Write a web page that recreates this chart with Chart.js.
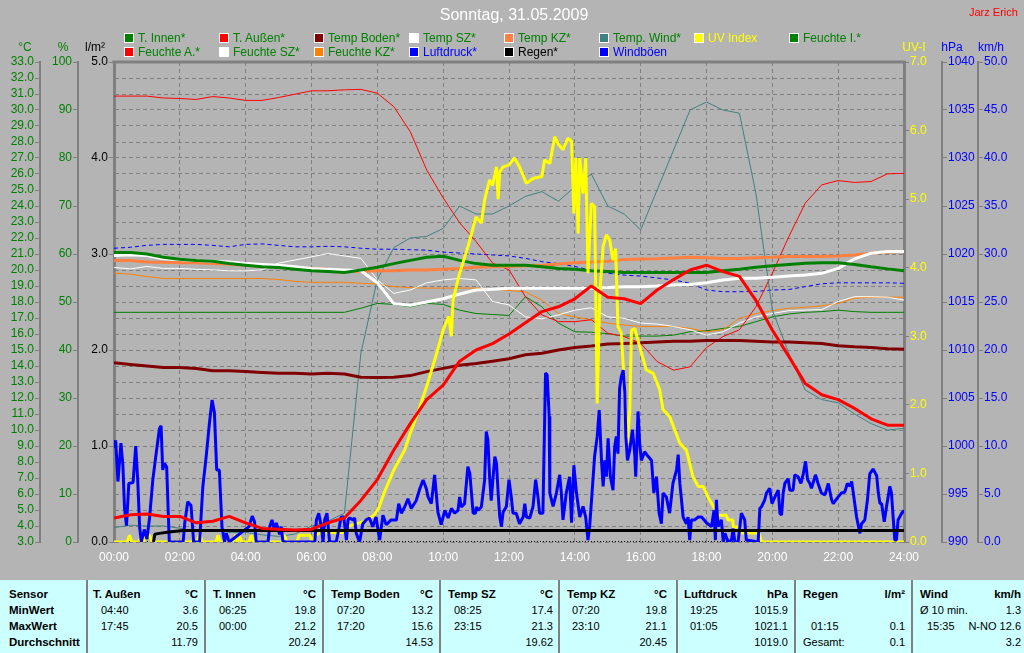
<!DOCTYPE html>
<html>
<head>
<meta charset="utf-8">
<script src="https://cdn.jsdelivr.net/npm/chart.js@4.4.0/dist/chart.umd.min.js"></script>
<style>
  html, body { margin: 0; padding: 0; background: #b4b4b4; }
  #wrap { position: relative; width: 1024px; height: 653px; overflow: hidden; background: #b4b4b4;
          font-family: "Liberation Sans", Arial, sans-serif; }
  #chart { position: absolute; left: 0; top: 0; }
  .t { position: absolute; white-space: nowrap; line-height: 14px; }
  .mid { transform: translate(-50%, -50%); }
  .sw { position: absolute; width: 10px; height: 10px; box-sizing: border-box; border: 1px solid #fff; }
  .lg { position: absolute; white-space: nowrap; font-size: 12px; line-height: 14px; }
  #tbl { position: absolute; left: 0; top: 580px; width: 1024px; height: 73px; background: #ccffff; }
  .sep { position: absolute; top: 580px; width: 2px; height: 73px; background: #808080; }
  .b { position: absolute; white-space: nowrap; font-weight: bold; font-size: 11.5px; line-height: 14px; color: #000; }
  .v { position: absolute; white-space: nowrap; font-size: 11px; line-height: 14px; color: #000; }
</style>
</head>
<body>
<div id="wrap">
  <canvas id="chart" width="1024" height="580"></canvas>

  <div class="t mid" style="left:514px;top:15px;color:#fff;font-size:16px;">Sonntag, 31.05.2009</div>
  <div class="t" style="left:969px;top:5px;color:#ff0000;font-size:11px;">Jarz Erich</div>

  <div class="t mid" style="left:25px;top:47px;color:#008000;font-size:12px;">°C</div>
  <div class="t mid" style="left:63px;top:47px;color:#008000;font-size:12px;">%</div>
  <div class="t mid" style="left:95px;top:47px;color:#000;font-size:12px;">l/m²</div>
  <div class="t mid" style="left:914px;top:47px;color:#ffff00;font-size:12px;">UV-I</div>
  <div class="t mid" style="left:952px;top:47px;color:#0000ff;font-size:12px;">hPa</div>
  <div class="t mid" style="left:991px;top:47px;color:#0000ff;font-size:12px;">km/h</div>

  <div id="legend"></div>

  <div id="tbl"></div>
  <div class="sep" style="left:86px"></div>
  <div class="sep" style="left:204px"></div>
  <div class="sep" style="left:322px"></div>
  <div class="sep" style="left:439px"></div>
  <div class="sep" style="left:558px"></div>
  <div class="sep" style="left:676px"></div>
  <div class="sep" style="left:794px"></div>
  <div class="sep" style="left:911px"></div>

  <div class="b" style="left:9px;top:587px">Sensor</div>
  <div class="b" style="left:9px;top:603px">MinWert</div>
  <div class="b" style="left:9px;top:619px">MaxWert</div>
  <div class="b" style="left:9px;top:635px">Durchschnitt</div>

  <div class="b" style="left:93px;top:587px">T. Außen</div>
  <div class="b" style="right:826px;top:587px">°C</div>
  <div class="v" style="left:101px;top:603px">04:40</div>
  <div class="v" style="right:826px;top:603px">3.6</div>
  <div class="v" style="left:101px;top:619px">17:45</div>
  <div class="v" style="right:826px;top:619px">20.5</div>
  <div class="v" style="right:826px;top:635px">11.79</div>

  <div class="b" style="left:213px;top:587px">T. Innen</div>
  <div class="b" style="right:708px;top:587px">°C</div>
  <div class="v" style="left:219px;top:603px">06:25</div>
  <div class="v" style="right:708px;top:603px">19.8</div>
  <div class="v" style="left:219px;top:619px">00:00</div>
  <div class="v" style="right:708px;top:619px">21.2</div>
  <div class="v" style="right:708px;top:635px">20.24</div>

  <div class="b" style="left:331px;top:587px">Temp Boden</div>
  <div class="b" style="right:591px;top:587px">°C</div>
  <div class="v" style="left:337px;top:603px">07:20</div>
  <div class="v" style="right:591px;top:603px">13.2</div>
  <div class="v" style="left:337px;top:619px">17:20</div>
  <div class="v" style="right:591px;top:619px">15.6</div>
  <div class="v" style="right:591px;top:635px">14.53</div>

  <div class="b" style="left:448px;top:587px">Temp SZ</div>
  <div class="b" style="right:471px;top:587px">°C</div>
  <div class="v" style="left:454px;top:603px">08:25</div>
  <div class="v" style="right:471px;top:603px">17.4</div>
  <div class="v" style="left:454px;top:619px">23:15</div>
  <div class="v" style="right:471px;top:619px">21.3</div>
  <div class="v" style="right:471px;top:635px">19.62</div>

  <div class="b" style="left:567px;top:587px">Temp KZ</div>
  <div class="b" style="right:357px;top:587px">°C</div>
  <div class="v" style="left:572px;top:603px">07:20</div>
  <div class="v" style="right:357px;top:603px">19.8</div>
  <div class="v" style="left:572px;top:619px">23:10</div>
  <div class="v" style="right:357px;top:619px">21.1</div>
  <div class="v" style="right:357px;top:635px">20.45</div>

  <div class="b" style="left:684px;top:587px">Luftdruck</div>
  <div class="b" style="right:236px;top:587px">hPa</div>
  <div class="v" style="left:690px;top:603px">19:25</div>
  <div class="v" style="right:236px;top:603px">1015.9</div>
  <div class="v" style="left:690px;top:619px">01:05</div>
  <div class="v" style="right:236px;top:619px">1021.1</div>
  <div class="v" style="right:236px;top:635px">1019.0</div>

  <div class="b" style="left:803px;top:587px">Regen</div>
  <div class="b" style="right:119px;top:587px">l/m²</div>
  <div class="v" style="left:811px;top:619px">01:15</div>
  <div class="v" style="right:119px;top:619px">0.1</div>
  <div class="v" style="left:803px;top:635px">Gesamt:</div>
  <div class="v" style="right:119px;top:635px">0.1</div>

  <div class="b" style="left:920px;top:587px">Wind</div>
  <div class="b" style="right:3px;top:587px">km/h</div>
  <div class="v" style="left:920px;top:603px">Ø 10 min.</div>
  <div class="v" style="right:3px;top:603px">1.3</div>
  <div class="v" style="left:927px;top:619px">15:35</div>
  <div class="v" style="right:3px;top:619px">N-NO 12.6</div>
  <div class="v" style="right:3px;top:635px">3.2</div>
</div>

<script>
// half-hour sampling of the day (hours)
const TIMES = [0,0.5,1,1.5,2,2.5,3,3.5,4,4.5,5,5.5,6,6.5,7,7.5,8,8.5,9,9.5,10,10.5,11,11.5,12,
               12.5,13,13.5,14,14.5,15,15.5,16,16.5,17,17.5,18,18.5,19,19.5,20,20.5,21,21.5,22,22.5,23,23.5,24];

// temperatures, °C
const tInnen  = [21.1,21.1,21.0,20.8,20.67,20.6,20.55,20.4,20.3,20.2,20.15,20.05,19.95,19.9,19.85,20.0,20.17,20.4,20.6,20.8,
                 20.86,20.6,20.4,20.3,20.3,20.3,20.2,20.1,20.05,19.95,19.9,19.85,19.85,19.85,19.85,19.85,19.84,19.95,20.05,20.17,
                 20.27,20.35,20.42,20.45,20.45,20.35,20.2,20.07,19.96];
const tAussen = [4.5,4.7,4.75,4.6,4.6,4.2,4.3,4.6,4.2,3.85,3.8,3.75,3.8,4.2,4.5,5.6,6.9,8.75,10.4,11.9,
                 12.8,14.3,15.0,15.4,16.0,16.7,17.4,17.7,18.2,19.0,18.3,18.2,17.9,18.75,19.4,20.0,20.3,19.9,19.6,18.1,
                 16.25,14.6,12.9,12.2,11.9,11.35,10.7,10.3,10.3];
const tBoden  = [14.2,14.1,14.0,13.9,13.9,13.85,13.7,13.7,13.65,13.6,13.55,13.55,13.5,13.55,13.5,13.3,13.28,13.3,13.4,13.65,
                 13.85,14.05,14.15,14.3,14.45,14.7,14.8,15.0,15.15,15.25,15.38,15.4,15.45,15.5,15.55,15.55,15.6,15.6,15.6,15.55,
                 15.5,15.5,15.45,15.4,15.27,15.2,15.15,15.08,15.04];
const tSZ     = [20.9,20.95,20.9,20.7,20.65,20.6,20.55,20.5,20.4,20.35,20.3,20.2,20.1,20.05,20.0,19.95,19.2,17.9,17.8,18.0,
                 18.2,18.5,18.75,18.8,18.86,18.86,18.86,18.86,18.86,18.86,18.9,18.96,18.96,19.0,19.06,19.1,19.2,19.38,19.48,19.48,
                 19.54,19.63,19.69,19.79,20.1,20.7,21.05,21.15,21.15];
const tKZ     = [20.6,20.6,20.5,20.48,20.46,20.46,20.4,20.37,20.3,20.25,20.2,20.15,20.1,20.05,19.95,19.9,19.95,19.95,20.0,20.0,
                 20.05,20.1,20.17,20.2,20.22,20.27,20.3,20.37,20.45,20.5,20.55,20.65,20.68,20.7,20.75,20.8,20.77,20.72,20.72,20.76,
                 20.8,20.85,20.85,20.85,20.88,20.94,21.04,21.12,21.15];
const tWind   = [3.9,4.05,4.0,4.0,3.86,3.65,3.75,3.6,3.6,3.45,3.35,3.5,4.0,4.3,4.8,14.8,19.4,21.4,22.0,22.1,
                 22.6,24.0,23.5,23.5,24.0,24.6,24.9,24.3,25.2,26.0,24.0,23.5,22.5,25.0,27.5,30.0,30.5,30.0,29.8,24.8,
                 17.5,14.8,12.5,11.9,11.7,11.0,10.4,10.0,10.1];

// humidity, %
const feuchteI  = [47.85,47.85,47.85,47.85,47.85,47.85,47.85,47.85,47.85,47.85,47.85,47.85,47.85,47.85,47.85,48.7,49.7,49.5,49.0,49.7,
                   49.5,48.3,47.6,47.4,47.2,51.1,49.0,45.6,43.8,43.7,43.4,42.9,42.9,42.9,43.1,43.8,44.0,44.5,44.9,45.9,
                   46.9,47.5,47.85,48.0,48.3,48.0,47.85,47.85,47.85];
const feuchteA  = [92.9,92.9,92.9,92.5,92.4,92.2,92.8,92.5,92.0,92.0,92.6,93.3,94.0,94.0,94.2,94.3,93.5,90.7,85.5,77.5,
                   71.7,66.5,62.6,58.1,56.7,51.1,47.3,45.9,45.9,46.3,43.5,42.8,41.4,37.6,35.8,36.5,40.5,42.8,44.2,49.0,
                   56.0,63.6,70.6,74.4,75.3,74.9,75.1,76.7,76.8];
const feuchteSZ = [57.2,56.9,57.4,57.0,57.0,56.8,56.7,56.5,56.5,56.7,58.1,58.75,59.4,60.1,59.6,59.1,54.6,51.8,52.5,54.0,
                   54.6,54.9,54.6,50.1,49.4,46.9,46.5,47.3,48.3,48.8,46.9,46.6,45.6,45.4,44.9,44.2,43.1,43.8,45.6,46.9,
                   47.6,48.2,48.3,48.4,50.1,51.1,51.1,51.0,50.4];
const feuchteKZ = [56.0,55.8,55.3,54.9,54.9,54.9,54.9,54.9,54.9,54.9,54.7,54.3,54.1,54.1,54.1,53.9,53.75,53.2,53.0,52.9,
                   52.9,52.9,52.9,52.7,52.4,52.1,50.4,47.6,46.9,46.25,45.6,45.2,44.9,44.9,44.9,44.5,43.8,44.2,46.6,47.6,
                   48.2,48.7,48.9,49.2,49.7,50.8,51.0,51.0,51.0];

// pressure, hPa
const luftdruck = [1020.6,1020.7,1020.9,1021.0,1021.0,1021.0,1020.9,1020.75,1021.0,1021.05,1020.9,1020.75,1020.75,1020.8,1020.75,1020.6,1020.5,1020.5,1020.45,1020.4,
                   1020.2,1020.1,1020.0,1019.9,1019.8,1019.55,1019.2,1019.0,1018.7,1018.3,1018.0,1017.8,1017.7,1017.5,1017.3,1016.95,1016.25,1016.07,1016.07,1016.1,
                   1016.25,1016.3,1016.6,1016.9,1017.0,1017.0,1017.0,1017.0,1016.95];

// rain, l/m²  [hour, value]
const regen = [[1.2,0],[1.24,0.08],[1.38,0.09],[1.67,0.105],[2.1,0.12],[24,0.12]];

// UV index  [hour, value]
const uvIndex = [[0,0],[0.4,0],[0.47,0.1],[0.54,0],[0.76,0],[0.83,0.1],[0.9,0],[0.97,0.1],[1.08,0.1],[1.15,0],
  [2.52,0],[2.6,0.12],[2.68,0],[3.1,0],[3.16,0.1],[3.23,0],[3.35,0],[3.41,0.1],[3.48,0],[3.62,0],[3.69,0.1],[3.75,0],
  [3.81,0.1],[3.88,0],[4.1,0],[4.17,0.1],[4.24,0],[5.1,0],[5.18,0.1],[5.25,0],[5.55,0],[5.63,0.1],[5.95,0.1],[6.02,0],
  [6.12,0.1],[6.3,0.14],[6.95,0.14],[7.05,0.22],[7.6,0.3],[7.9,0.39],[8.05,0.5],[8.2,0.71],[8.5,1.05],[8.83,1.34],
  [9.0,1.59],[9.23,1.88],[9.5,2.27],[9.74,2.65],[9.89,2.9],[10.0,3.09],[10.17,3.29],[10.25,3.0],[10.3,3.53],[10.5,3.92],
  [10.75,4.3],[11.0,4.74],[11.16,4.65],[11.26,4.99],[11.41,5.28],[11.5,5.2],[11.62,5.47],[11.67,5.0],[11.72,5.4],
  [11.82,5.47],[12.0,5.5],[12.17,5.6],[12.32,5.47],[12.53,5.23],[12.73,5.3],[13.0,5.33],[13.08,5.57],[13.24,5.52],
  [13.39,5.91],[13.5,5.8],[13.64,5.72],[13.79,5.89],[13.9,5.84],[13.97,4.79],[14.03,5.6],[14.1,4.5],[14.15,5.6],
  [14.25,5.08],[14.33,5.6],[14.4,3.92],[14.5,4.94],[14.6,4.89],[14.68,2.02],[14.76,3.63],[14.86,4.31],[14.96,4.48],
  [15.06,4.4],[15.16,4.11],[15.24,4.28],[15.31,3.14],[15.41,3.05],[15.52,2.17],[15.6,1.44],[15.67,1.93],[15.72,3.09],
  [15.82,3.11],[15.97,2.85],[16.17,2.51],[16.38,2.46],[16.58,2.22],[16.68,1.93],[16.88,1.83],[17.19,1.44],[17.39,1.34],
  [17.59,0.95],[17.75,0.81],[17.9,0.81],[18.05,0.65],[18.25,0.49],[18.3,0.39],[18.6,0.39],[18.66,0.32],[18.8,0.32],
  [18.81,0.22],[19.0,0.22],[19.06,0.13],[19.6,0.13],[19.67,0],[24,0]];

// wind gusts, km/h  [hour, value]
const windboeen = [[0.0,9.8],[0.05,10.6],[0.12,6.3],[0.21,10.3],[0.27,8.0],[0.32,3.5],[0.38,1.7],[0.45,6.1],[0.58,6.2],
  [0.66,10.0],[0.72,6.5],[0.78,1.5],[0.83,0],[0.92,1.3],[1.0,0.3],[1.08,2.5],[1.18,6.5],[1.28,9.2],[1.38,11.8],[1.43,12.1],
  [1.48,7.5],[1.53,8.2],[1.6,7.8],[1.68,0],[2.1,0],[2.15,2.0],[2.24,4.2],[2.34,3.8],[2.42,0],[2.6,0],[2.7,5.8],[2.8,8.9],
  [2.9,12.4],[2.98,14.8],[3.05,13.5],[3.12,7.5],[3.2,7.5],[3.28,1.6],[3.36,0],[3.41,0.9],[3.5,0],[4.1,1.6],[4.2,2.7],
  [4.27,2.1],[4.32,0],[4.68,0],[4.73,1.6],[4.8,2.3],[4.88,1.2],[4.93,2.0],[4.98,1.4],[5.03,0.8],[5.08,1.6],[5.13,0.1],
  [5.2,0],[6.1,0],[6.15,2.3],[6.22,3.0],[6.3,1.6],[6.35,0],[6.4,2.3],[6.47,3.0],[6.55,0],[6.75,0],[6.83,1.3],[6.9,2.6],
  [6.98,2.6],[7.06,0.2],[7.11,2.3],[7.16,2.5],[7.26,2.3],[7.31,2.5],[7.36,0.9],[7.46,0],[7.56,1.9],[7.66,2.3],[7.76,2.5],
  [7.86,1.6],[7.96,2.6],[8.07,0.2],[8.17,2.8],[8.27,1.8],[8.42,2.3],[8.58,2.3],[8.65,4.0],[8.73,3.0],[8.83,3.65],
  [8.93,4.5],[9.03,3.5],[9.18,4.3],[9.29,5.55],[9.39,6.46],[9.49,5.55],[9.54,4.7],[9.64,4.0],[9.74,7.0],[9.84,3.1],
  [9.94,1.8],[10.05,3.3],[10.15,2.5],[10.25,3.5],[10.35,3.0],[10.45,3.3],[10.5,4.7],[10.55,3.65],[10.65,4.0],[10.75,7.85],
  [10.81,7.15],[10.86,5.1],[10.91,3.0],[10.98,3.0],[11.01,3.65],[11.06,3.3],[11.16,3.65],[11.26,6.46],[11.31,11.5],
  [11.36,10.6],[11.41,6.8],[11.46,4.3],[11.51,6.46],[11.57,8.9],[11.62,8.2],[11.67,5.1],[11.72,2.6],[11.77,1.6],
  [11.82,3.1],[11.92,3.7],[12.0,6.5],[12.07,4.7],[12.12,3.0],[12.22,3.0],[12.32,1.9],[12.43,2.6],[12.48,4.0],[12.53,2.6],
  [12.63,2.5],[12.73,3.7],[12.81,6.5],[12.88,4.7],[12.93,3.0],[13.03,3.0],[13.11,17.6],[13.16,17.4],[13.22,13.1],
  [13.24,5.1],[13.34,3.7],[13.44,5.1],[13.54,7.0],[13.59,5.1],[13.64,2.3],[13.74,5.1],[13.84,6.8],[13.9,2.0],[13.97,8.0],
  [14.05,5.1],[14.15,2.6],[14.25,3.7],[14.33,2.6],[14.4,0.2],[14.45,1.6],[14.5,4.0],[14.6,8.9],[14.68,11.0],[14.74,13.75],
  [14.81,8.5],[14.86,5.8],[14.91,8.5],[14.96,6.8],[15.01,10.8],[15.08,6.8],[15.16,5.4],[15.21,9.9],[15.26,11.0],
  [15.31,9.2],[15.36,16.0],[15.41,17.2],[15.47,17.9],[15.52,15.5],[15.55,11.0],[15.6,8.5],[15.67,9.6],[15.75,11.7],
  [15.82,9.1],[15.85,6.8],[15.92,13.6],[15.97,10.3],[16.02,8.5],[16.12,9.4],[16.23,8.9],[16.33,8.5],[16.4,5.1],
  [16.48,6.8],[16.56,3.0],[16.63,1.9],[16.68,5.1],[16.78,4.7],[16.88,3.0],[16.98,6.1],[17.09,7.5],[17.14,9.1],[17.19,6.1],
  [17.24,4.4],[17.29,2.6],[17.39,1.9],[17.44,2.6],[17.49,0.2],[17.54,2.3],[17.64,2.3],[17.75,2.6],[17.85,2.6],[18.0,2.0],
  [18.15,1.6],[18.23,3.3],[18.27,0.2],[18.3,4.4],[18.35,1.6],[18.45,2.3],[18.51,0],[18.56,0.9],[18.66,0],[18.76,0.2],
  [18.81,1.4],[18.86,0],[18.96,0],[19.06,3.0],[19.16,2.3],[19.21,0.2],[19.57,0],[19.62,3.5],[19.67,3.65],[19.77,4.4],
  [19.82,5.1],[19.92,5.6],[19.99,4.0],[20.08,4.7],[20.18,5.4],[20.23,3.0],[20.28,2.8],[20.33,5.1],[20.38,6.1],[20.48,6.6],
  [20.53,5.4],[20.63,5.4],[20.68,7.0],[20.78,6.8],[20.87,6.1],[20.94,7.1],[21.01,8.4],[21.07,6.5],[21.14,6.1],[21.19,5.6],
  [21.31,7.0],[21.39,6.1],[21.49,5.1],[21.6,4.9],[21.7,6.1],[21.8,4.4],[21.85,4.0],[22.0,4.7],[22.1,5.1],[22.2,5.2],
  [22.28,6.1],[22.36,5.8],[22.41,6.3],[22.46,5.1],[22.56,2.6],[22.66,0.9],[22.71,1.9],[22.81,2.3],[22.89,4.4],[22.96,7.1],
  [23.06,7.6],[23.17,6.9],[23.22,5.1],[23.27,4.0],[23.32,4.0],[23.4,2.1],[23.47,3.7],[23.57,5.8],[23.62,5.1],[23.67,2.6],
  [23.72,0.2],[23.77,0.2],[23.82,2.3],[23.93,3.0],[24.0,3.3]];

const GRID = '#808080';
const FONT = { family: '"Liberation Sans", Arial, sans-serif', size: 12 };

const series = (ys) => TIMES.map((x, i) => ({ x, y: ys[i] }));
const pairs = (arr) => arr.map(([x, y]) => ({ x, y }));

const line = (label, data, color, axis, width, extra) => Object.assign({
  label, data, yAxisID: axis, borderColor: color, backgroundColor: color,
  borderWidth: width, pointRadius: 0, tension: 0, borderJoinStyle: 'bevel', fill: false
}, extra || {});

// index 0 is drawn on top
const datasets = [
  line('T. Außen*', series(tAussen), '#ff0000', 'yC', 3),
  line('Regen*', pairs(regen), '#000000', 'yR', 3),
  line('Windböen', pairs(windboeen), '#0000ff', 'yW', 3),
  line('UV Index', pairs(uvIndex), '#ffff00', 'yUV', 3),
  line('T. Innen*', series(tInnen), '#008000', 'yC', 3),
  line('Temp SZ*', series(tSZ), '#ffffff', 'yC', 3),
  line('Temp KZ*', series(tKZ), '#ff8040', 'yC', 3),
  line('Temp Boden*', series(tBoden), '#800000', 'yC', 3),
  line('Temp. Wind*', series(tWind), '#408080', 'yC', 1),
  line('Feuchte A.*', series(feuchteA), '#ff0000', 'yH', 1),
  line('Feuchte SZ*', series(feuchteSZ), '#ffffff', 'yH', 1),
  line('Feuchte KZ*', series(feuchteKZ), '#ff8000', 'yH', 1),
  line('Feuchte I.*', series(feuchteI), '#008000', 'yH', 1),
  line('Luftdruck*', series(luftdruck), '#0000ff', 'yP', 1, { borderDash: [4, 3] })
];

function yScale(position, weight, width, min, max, step, color, fmt, gridOnChart, borderWidth) {
  return {
    position, weight, min, max,
    afterFit: s => { s.width = width; },
    ticks: { stepSize: step, autoSkip: false, color, padding: 1, font: FONT, callback: fmt },
    grid: { drawOnChartArea: gridOnChart, color: GRID, tickColor: GRID, tickLength: 5, tickBorderDash: [] },
    border: { display: true, color: GRID, width: borderWidth, dash: [4, 3] }
  };
}

const oneDec = v => v.toFixed(1);

// thick frame line on top of the plot, dotted base line at the bottom
const frame = {
  id: 'frame',
  beforeDatasetsDraw(chart) {
    const { ctx, chartArea } = chart;
    ctx.save();
    ctx.strokeStyle = GRID;
    ctx.lineWidth = 3;
    ctx.beginPath();
    ctx.moveTo(chartArea.left - 1.5, chartArea.top);
    ctx.lineTo(chartArea.right + 1.5, chartArea.top);
    ctx.stroke();
    ctx.strokeStyle = '#000';
    ctx.lineWidth = 1;
    ctx.setLineDash([1, 2]);
    ctx.beginPath();
    ctx.moveTo(chartArea.left, chartArea.bottom - 0.5);
    ctx.lineTo(chartArea.right, chartArea.bottom - 0.5);
    ctx.stroke();
    ctx.restore();
  }
};

new Chart(document.getElementById('chart'), {
  type: 'line',
  data: { datasets },
  options: {
    responsive: false,
    animation: false,
    layout: { padding: { top: 62, left: 0, right: 0, bottom: 0 } },
    plugins: { legend: { display: false }, title: { display: false }, tooltip: { enabled: false } },
    scales: {
      x: {
        type: 'linear', min: 0, max: 24,
        afterFit: s => { s.height = 38; },
        ticks: { stepSize: 2, autoSkip: false, maxRotation: 0, color: '#ffffff', padding: 8, font: FONT,
                 callback: v => String(v).padStart(2, '0') + ':00' },
        grid: { color: GRID, drawTicks: false },
        border: { display: false, dash: [4, 3] }
      },
      yC:  yScale('left', 3, 40, 3, 33, 1, '#008000', oneDec, true, 2),
      yH:  yScale('left', 2, 38, 0, 100, 10, '#008000', v => v, false, 2),
      yR:  yScale('left', 1, 36, 0, 5, 1, '#000000', oneDec, false, 3),
      yUV: yScale('right', 1, 38, 0, 7, 1, '#ffff00', oneDec, false, 3),
      yP:  yScale('right', 2, 36, 990, 1040, 5, '#0000ff', v => v, false, 2),
      yW:  yScale('right', 3, 46, 0, 50, 5, '#0000ff', oneDec, false, 2)
    }
  },
  plugins: [frame]
});

// legend, two rows as in the source image
const legendItems = [
  ['T. Innen*', '#008000', '#008000'], ['T. Außen*', '#ff0000', '#008000'], ['Temp Boden*', '#800000', '#008000'],
  ['Temp SZ*', '#ffffff', '#008000'], ['Temp KZ*', '#ff8040', '#008000'], ['Temp. Wind*', '#408080', '#008000'],
  ['UV Index', '#ffff00', '#ffff00'], ['Feuchte I.*', '#008000', '#008000'],
  ['Feuchte A.*', '#ff0000', '#008000'], ['Feuchte SZ*', '#ffffff', '#008000'], ['Feuchte KZ*', '#ff8000', '#008000'],
  ['Luftdruck*', '#0000ff', '#0000ff'], ['Regen*', '#000000', '#000000'], ['Windböen', '#0000ff', '#0000ff']
];
const lg = document.getElementById('legend');
legendItems.forEach(([name, box, txt], i) => {
  const col = i % 8, row = Math.floor(i / 8);
  const x = 124 + col * 95, y = 33 + row * 14;
  const sw = document.createElement('div');
  sw.className = 'sw';
  sw.style.left = x + 'px'; sw.style.top = y + 'px'; sw.style.background = box;
  const tx = document.createElement('div');
  tx.className = 'lg';
  tx.style.left = (x + 14) + 'px'; tx.style.top = (y - 2) + 'px'; tx.style.color = txt;
  tx.textContent = name;
  lg.appendChild(sw); lg.appendChild(tx);
});
</script>
</body>
</html>
